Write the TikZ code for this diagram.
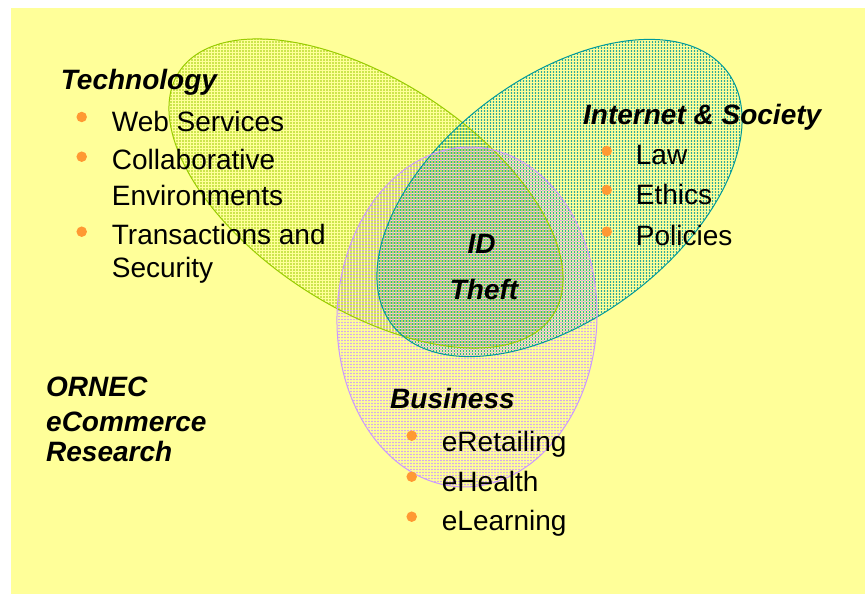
\documentclass[tikz,border=0pt]{standalone}
\usepackage{fontspec}
\setmainfont{Liberation Sans}
\usetikzlibrary{patterns.meta}

\definecolor{bgyellow}{HTML}{FFFF99}
\definecolor{techgreen}{HTML}{99CC00}
\definecolor{netteal}{HTML}{009999}
\definecolor{buslilac}{HTML}{CC99FF}
\definecolor{bulletorange}{HTML}{FF9933}

% closed rotated oval: centre x, centre y, semi-axis a, semi-axis b, angle
\newcommand{\ovalpath}[5]{plot[domain=0:357,samples=120,smooth cycle,variable=\t]
  ({#1+#3*cos(\t)*cos(#5)-#4*sin(\t)*sin(#5)},{#2+#3*cos(\t)*sin(#5)+#4*sin(\t)*cos(#5)})}

\begin{document}
\begin{tikzpicture}[x=1pt,y=1pt,
  txt/.style={anchor=base west, inner sep=0pt, font=\fontsize{28}{33}\selectfont},
  head/.style={txt, font=\fontsize{28}{33}\selectfont\bfseries\itshape},
  centrehead/.style={head, anchor=base},
  bullet/.style={circle, fill=bulletorange, inner sep=0pt, minimum size=10.5pt},
  rim/.style={line width=1pt}]
\useasboundingbox (0,0) rectangle (865,594);
\fill[bgyellow] (11,0) rectangle (865,586);

% dotted fills of the three sets
\path[pattern={Dots[distance=3pt,radius=0.8pt]}, pattern color=techgreen]
  \ovalpath{366}{400.5}{223}{114}{-33};
\path[pattern={Dots[distance=3pt,radius=0.8pt,xshift=1.5pt]}, pattern color=netteal]
  \ovalpath{559.5}{396}{210}{120}{37};
\path[pattern={Dots[distance=3pt,radius=0.8pt,yshift=1.5pt]}, pattern color=buslilac]
  \ovalpath{467}{277}{130}{170}{-2};

% outlines
\draw[rim, techgreen] \ovalpath{366}{400.5}{223}{114}{-33};
\draw[rim, netteal] \ovalpath{559.5}{396}{210}{120}{37};
\draw[rim, buslilac] \ovalpath{467}{277}{130}{170}{-2};

% Technology
\node[head] (techhead) at (60.7,504) {Technology};
\node[bullet] (tb1) at (81.7,477) {};
\node[txt] (tweb) at (111.7,462.3) {Web Services};
\node[bullet] (tb2) at (81.7,437.3) {};
\node[txt] (tcol) at (111.7,424) {Collaborative};
\node[txt] (tenv) at (111.7,388.3) {Environments};
\node[bullet] (tb3) at (81.7,362.3) {};
\node[txt] (ttra) at (111.7,349) {Transactions and};
\node[txt] (tsec) at (111.7,316) {Security};

% Internet & Society
\node[head] (nethead) at (583,469) {Internet \& Society};
\node[bullet] (nb1) at (606.7,443) {};
\node[txt] (nlaw) at (635.7,429) {Law};
\node[bullet] (nb2) at (606.7,404) {};
\node[txt] (neth) at (635.7,389) {Ethics};
\node[bullet] (nb3) at (606.7,362.3) {};
\node[txt] (npol) at (635.7,348) {Policies};

% Business
\node[head] (bushead) at (390,185.7) {Business};
\node[bullet] (bb1) at (411.7,158.3) {};
\node[txt] (bret) at (441.7,142.3) {eRetailing};
\node[bullet] (bb2) at (411.7,117.3) {};
\node[txt] (bhea) at (441.7,102.3) {eHealth};
\node[bullet] (bb3) at (411.7,77.3) {};
\node[txt] (blea) at (441.7,63.3) {eLearning};

% centre of the three sets
\node[centrehead] (idline) at (481.5,340) {ID};
\node[centrehead] (theftline) at (484,294) {Theft};

% group label
\node[head] (ornec) at (46,197.3) {ORNEC};
\node[head] (ecom) at (46,162.3) {eCommerce};
\node[head] (research) at (46,132.3) {Research};
\end{tikzpicture}
\end{document}
